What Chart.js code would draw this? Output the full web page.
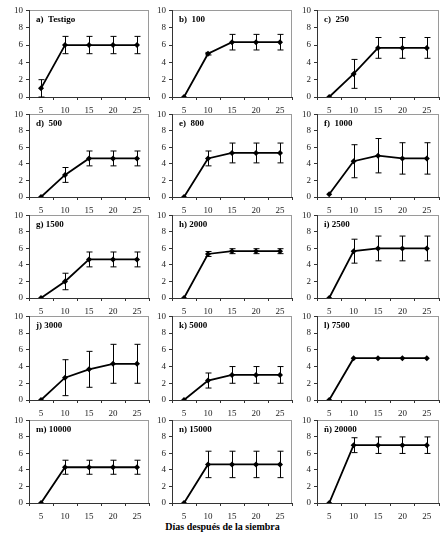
<!DOCTYPE html>
<html>
<head>
<meta charset="utf-8">
<script src="https://cdn.jsdelivr.net/npm/chart.js@4/dist/chart.umd.min.js"></script>
<style>
  html, body { margin: 0; padding: 0; background: #fff; }
  body { width: 445px; height: 533px; position: relative; overflow: hidden; }
  canvas { position: absolute; }
  #xtitle { position: absolute; left: 0; width: 445px; top: 521px; text-align: center;
    font-family: "Liberation Serif", serif; font-weight: bold; font-size: 10px; color: #000; }
</style>
</head>
<body>
<div id="xtitle">Días después de la siembra</div>
<script>
// ---- data ----
const days = ['5', '10', '15', '20', '25'];
const yTicks = [0, 2, 4, 6, 8, 10];
const panelTitles = ['a)  Testigo', 'b)  100', 'c)  250', 'd)  500', 'e)  800', 'f)  1000',
  'g) 1500', 'h) 2000', 'i) 2500', 'j) 3000', 'k) 5000', 'l) 7500',
  'm) 10000', 'n) 15000', 'ñ) 20000'];
const meanA = [1, 6, 6, 6, 6];           const errA = [1, 1, 1, 1, 1];
const meanB = [0, 5, 6.33, 6.33, 6.33];  const errB = [0, 0.15, 0.9, 0.9, 0.9];
const meanC = [0, 2.67, 5.67, 5.67, 5.67]; const errC = [0, 1.67, 1.2, 1.2, 1.2];
const meanD = [0, 2.67, 4.67, 4.67, 4.67]; const errD = [0, 0.9, 0.9, 0.9, 0.9];
const meanE = [0, 4.67, 5.33, 5.33, 5.33]; const errE = [0, 0.9, 1.2, 1.2, 1.2];
const meanF = [0.33, 4.33, 5, 4.67, 4.67]; const errF = [0, 2, 2.08, 1.9, 1.9];
const meanG = [0, 2, 4.67, 4.67, 4.67];  const errG = [0, 1, 0.9, 0.9, 0.9];
const meanH = [0, 5.33, 5.67, 5.67, 5.67]; const errH = [0, 0.3, 0.3, 0.3, 0.3];
const meanI = [0, 5.67, 6, 6, 6];        const errI = [0, 1.45, 1.5, 1.5, 1.5];
const meanJ = [0, 2.67, 3.67, 4.33, 4.33]; const errJ = [0, 2.15, 2.15, 2.33, 2.33];
const meanK = [0, 2.33, 3, 3, 3];        const errK = [0, 0.9, 1, 1, 1];
const meanL = [0, 5, 5, 5, 5];           const errL = [0, 0, 0, 0, 0];
const meanM = [0, 4.33, 4.33, 4.33, 4.33]; const errM = [0, 0.85, 0.85, 0.85, 0.85];
const meanN = [0, 4.67, 4.67, 4.67, 4.67]; const errN = [0, 1.6, 1.6, 1.6, 1.6];
const meanO = [0, 7, 7, 7, 7];           const errO = [0, 0.9, 1, 1, 1];

const allMeans = [meanA, meanB, meanC, meanD, meanE, meanF, meanG, meanH, meanI, meanJ, meanK, meanL, meanM, meanN, meanO];
const allErrs = [errA, errB, errC, errD, errE, errF, errG, errH, errI, errJ, errK, errL, errM, errN, errO];

// ---- layout (plot area edges in page pixels) ----
const colLeft = [29, 172, 317];
const colRight = [150, 293, 440];
const rowTop = [10, 114, 215, 316, 420];
const rowBottom = [97, 197, 298, 400, 503];
const Y_AXIS_W = 29, TOP_PAD = 8, X_AXIS_H = 20;

const errorBarPlugin = {
  id: 'errbars',
  beforeDatasetsDraw(chart, args, opts) {
    const { ctx, scales } = chart;
    const vals = chart.data.datasets[0].data;
    const errs = opts.errors || [];
    ctx.save();
    ctx.strokeStyle = '#000';
    ctx.lineWidth = 1;
    vals.forEach((v, i) => {
      const e = errs[i];
      if (!e) return;
      const x = Math.round(scales.x.getPixelForValue(i)) + 0.5;
      const yt = scales.y.getPixelForValue(v + e);
      const yb = scales.y.getPixelForValue(v - e);
      ctx.beginPath();
      ctx.moveTo(x, yt); ctx.lineTo(x, yb);
      ctx.moveTo(x - 3, yt); ctx.lineTo(x + 3, yt);
      ctx.moveTo(x - 3, yb); ctx.lineTo(x + 3, yb);
      ctx.stroke();
    });
    ctx.restore();
  }
};

const frameAndLabelPlugin = {
  id: 'frameLabel',
  beforeDraw(chart, args, opts) {
    const { ctx, chartArea: a } = chart;
    ctx.save();
    ctx.strokeStyle = '#9a9a9a';
    ctx.lineWidth = 1;
    ctx.strokeRect(Math.round(a.left) + 0.5, Math.round(a.top) + 0.5,
      Math.round(a.right - a.left) - 1, Math.round(a.bottom - a.top));
    ctx.restore();
  },
  afterDraw(chart, args, opts) {
    const { ctx, chartArea: a } = chart;
    ctx.save();
    ctx.fillStyle = '#000';
    ctx.font = 'bold 9px "Liberation Serif", serif';
    ctx.textBaseline = 'top';
    ctx.fillText(opts.text, a.left + 7, a.top + 5);
    ctx.restore();
  }
};

const tickFont = { family: '"Liberation Serif", serif', size: 9 };

allMeans.forEach((means, p) => {
  const r = Math.floor(p / 3), c = p % 3;
  const cv = document.createElement('canvas');
  const w = colRight[c] - colLeft[c] + Y_AXIS_W + 3;
  const h = rowBottom[r] - rowTop[r] + TOP_PAD + X_AXIS_H;
  cv.width = w; cv.height = h;
  cv.style.left = (colLeft[c] - Y_AXIS_W) + 'px';
  cv.style.top = (rowTop[r] - TOP_PAD) + 'px';
  cv.style.width = w + 'px'; cv.style.height = h + 'px';
  document.body.appendChild(cv);

  new Chart(cv, {
    type: 'line',
    data: {
      labels: days,
      datasets: [{
        data: means,
        borderColor: '#000',
        backgroundColor: '#000',
        borderWidth: 1.8,
        pointStyle: 'rectRot',
        pointRadius: 3,
        pointBorderWidth: 0,
        fill: false,
        tension: 0
      }]
    },
    options: {
      responsive: false,
      animation: false,
      devicePixelRatio: 1,
      layout: { padding: { top: TOP_PAD, right: 3, left: 0, bottom: 0 } },
      plugins: {
        legend: { display: false },
        tooltip: { enabled: false },
        errbars: { errors: allErrs[p] },
        frameLabel: { text: panelTitles[p] }
      },
      scales: {
        x: {
          type: 'category',
          offset: true,
          grid: { offset: true, drawOnChartArea: false, drawTicks: true, tickLength: 3, color: '#333' },
          border: { display: true, color: '#333', width: 1 },
          ticks: { font: tickFont, color: '#222', padding: 5, maxRotation: 0, autoSkip: false },
          afterFit(s) { s.height = X_AXIS_H; }
        },
        y: {
          min: yTicks[0],
          max: yTicks[yTicks.length - 1],
          afterBuildTicks(s) { s.ticks = yTicks.map(v => ({ value: v })); },
          grid: { drawOnChartArea: false, drawTicks: true, tickLength: 3, color: '#333' },
          border: { display: true, color: '#333', width: 1 },
          ticks: { font: tickFont, color: '#222', padding: 3 },
          afterFit(s) { s.width = Y_AXIS_W; }
        }
      }
    },
    plugins: [errorBarPlugin, frameAndLabelPlugin]
  });
});
</script>
</body>
</html>
